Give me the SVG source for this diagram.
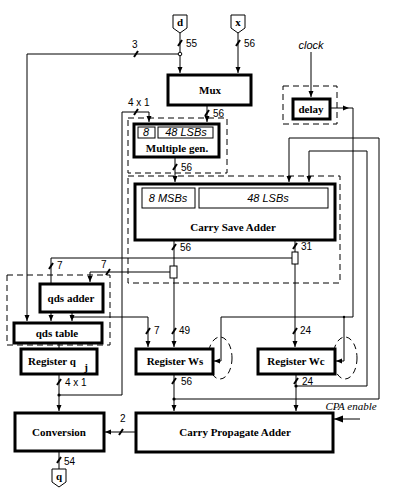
<svg xmlns="http://www.w3.org/2000/svg" width="410" height="503" viewBox="0 0 410 503">
<style>
.box{fill:#fff;stroke:#000;stroke-width:3}
.thin{fill:#fff;stroke:#000;stroke-width:1}
.dash{fill:none;stroke:#000;stroke-width:1;stroke-dasharray:6,4}
.w{fill:none;stroke:#000;stroke-width:1}
.tk{stroke:#000;stroke-width:2}
.b{font-family:"Liberation Serif",serif;font-weight:bold;font-size:11px;text-anchor:middle}
.n{font-family:"Liberation Sans",sans-serif;font-size:10px}
.it{font-family:"Liberation Sans",sans-serif;font-style:italic;font-size:11px;text-anchor:middle}
.dot{fill:#000}
</style>
<defs>
<marker id="a" markerUnits="userSpaceOnUse" markerWidth="6" markerHeight="6" refX="6" refY="3" orient="auto">
<path d="M0,0.5 L6,3 L0,5.5 z" fill="#000"/>
</marker>
<marker id="ab" markerUnits="userSpaceOnUse" markerWidth="9" markerHeight="8" refX="9" refY="4" orient="auto">
<path d="M0,0.5 L9,4 L0,7.5 z" fill="#000"/>
</marker>
</defs>
<rect width="410" height="503" fill="#fff"/>

<g id="groups">
<rect class="dash" x="128" y="118" width="99" height="55"/>
<rect class="dash" x="128" y="176" width="212" height="107"/>
<rect class="dash" x="283" y="86" width="54" height="38"/>
<rect class="dash" x="7" y="275" width="103" height="70"/>
<ellipse class="dash" cx="220" cy="358" rx="12" ry="21"/>
<ellipse class="dash" cx="345" cy="358" rx="12" ry="21"/>
</g>

<g id="connectors">
<path class="w" d="M180,33 V73" marker-end="url(#a)"/>
<path class="w" d="M238,33 V73" marker-end="url(#a)"/>
<path class="w" d="M180,54 H27 V321" marker-end="url(#a)"/>
<path class="w" d="M207,105 V122" marker-end="url(#a)"/>
<path class="w" d="M59,395 H122 V112 H149 V122" marker-end="url(#a)"/>
<path class="w" d="M175,157 V182" marker-end="url(#a)"/>
<path class="w" d="M174,240 V266"/>
<path class="w" d="M174,278 V347" marker-end="url(#a)"/>
<path class="w" d="M295,240 V252"/>
<path class="w" d="M295,264 V347" marker-end="url(#a)"/>
<path class="w" d="M170,272 H90 V282" marker-end="url(#a)"/>
<path class="w" d="M292,258 H51 V321" marker-end="url(#a)"/>
<path class="w" d="M72,312 V321" marker-end="url(#a)"/>
<path class="w" d="M72,317 H148 V347" marker-end="url(#a)"/>
<path class="w" d="M59,343 V348"/>
<path class="w" d="M59,374 V411" marker-end="url(#a)"/>
<path class="w" d="M174,374 V411" marker-end="url(#a)"/>
<path class="w" d="M174,399 H379 V138 H289 V182" marker-end="url(#a)"/>
<path class="w" d="M296,374 V411" marker-end="url(#a)"/>
<path class="w" d="M296,386 H367 V151 H309 V182" marker-end="url(#a)"/>
<path class="w" d="M311,52 V97" marker-end="url(#a)"/>
<path class="w" d="M330,108 H353 V317 H221 V361 H214" marker-end="url(#a)"/>
<polygon points="343,105.5 349,108 343,110.5" fill="#000"/>
<path class="w" d="M344,317 V361 H336" marker-end="url(#a)"/>
<path class="w" d="M136,432 H105" marker-end="url(#a)"/>
<path class="w" d="M360,419 H334" marker-end="url(#ab)"/>
<path class="w" d="M59,451 V469"/>
<circle cx="180" cy="54" r="1.8" fill="#fff" stroke="#000" stroke-width="1"/>
<circle class="dot" cx="72" cy="317" r="1.6"/>
<circle class="dot" cx="59" cy="395" r="1.6"/>
<circle class="dot" cx="174" cy="399" r="1.6"/>
<circle class="dot" cx="296" cy="386" r="1.6"/>
<circle class="dot" cx="344" cy="317" r="1.2"/>
<rect class="thin" x="170" y="266" width="7" height="12"/>
<rect class="thin" x="292" y="252" width="6" height="12"/>
<g>
<line class="tk" x1="178" y1="46" x2="182" y2="40"/>
<line class="tk" x1="236" y1="46" x2="240" y2="40"/>
<line class="tk" x1="134" y1="57" x2="138" y2="51"/>
<line class="tk" x1="134" y1="115" x2="138" y2="109"/>
<line class="tk" x1="205" y1="116" x2="209" y2="110"/>
<line class="tk" x1="173" y1="170" x2="177" y2="164"/>
<line class="tk" x1="172" y1="250" x2="176" y2="244"/>
<line class="tk" x1="293" y1="249" x2="297" y2="243"/>
<line class="tk" x1="49" y1="269" x2="53" y2="263"/>
<line class="tk" x1="106" y1="275" x2="110" y2="269"/>
<line class="tk" x1="146" y1="334" x2="150" y2="328"/>
<line class="tk" x1="172" y1="334" x2="176" y2="328"/>
<line class="tk" x1="293" y1="334" x2="297" y2="328"/>
<line class="tk" x1="172" y1="384" x2="176" y2="378"/>
<line class="tk" x1="294" y1="384" x2="298" y2="378"/>
<line class="tk" x1="57" y1="385" x2="61" y2="379"/>
<line class="tk" x1="119" y1="435" x2="123" y2="429"/>
<line class="tk" x1="57" y1="463" x2="61" y2="457"/>
</g>
<g class="n">
<text x="186" y="47">55</text>
<text x="244" y="47">56</text>
<text x="132" y="48">3</text>
<text x="128" y="106">4 x 1</text>
<text x="213" y="117">56</text>
<text x="181" y="171">56</text>
<text x="180" y="251">56</text>
<text x="301" y="250">31</text>
<text x="57" y="269">7</text>
<text x="101" y="268">7</text>
<text x="154" y="334">7</text>
<text x="179" y="334">49</text>
<text x="300" y="334">24</text>
<text x="181" y="385">56</text>
<text x="302" y="385">24</text>
<text x="65" y="386">4 x 1</text>
<text x="120" y="422">2</text>
<text x="64" y="465">54</text>
</g>
<text class="it" x="311" y="49" font-size="10">clock</text>
<text x="351" y="410" font-family="Liberation Serif,serif" font-style="italic" font-size="11" text-anchor="middle">CPA enable</text>
</g>

<g id="d">
<path class="thin" d="M173,15 H187 V28 L180,33 L173,28 Z"/>
<text class="b" x="180" y="26">d</text>
</g>
<g id="x">
<path class="thin" d="M231,15 H245 V28 L238,33 L231,28 Z"/>
<text class="b" x="238" y="26">x</text>
</g>
<g id="q">
<path class="thin" d="M52,469 H66 V482 L59,487 L52,482 Z"/>
<text class="b" x="59" y="480">q</text>
</g>
<g id="mux">
<rect class="box" x="168" y="75" width="83" height="30"/>
<text class="b" x="210" y="94">Mux</text>
</g>
<g id="delay">
<rect class="box" x="293" y="99" width="37" height="20"/>
<text class="b" x="311" y="113">delay</text>
</g>
<g id="multgen">
<rect class="box" x="134" y="124" width="85" height="33"/>
<rect class="thin" x="138" y="127" width="17" height="11"/>
<rect class="thin" x="158" y="127" width="55" height="11"/>
<text class="it" x="146" y="136" font-size="10">8</text>
<text class="it" x="186" y="136" font-size="10">48  LSBs</text>
<text class="b" x="177" y="152">Multiple gen.</text>
</g>
<g id="csa">
<rect class="box" x="135" y="184" width="200" height="56"/>
<rect class="thin" x="142" y="188" width="53" height="20"/>
<rect class="thin" x="199" y="188" width="129" height="20"/>
<text class="it" x="168" y="202">8  MSBs</text>
<text class="it" x="268" y="202">48 LSBs</text>
<text class="b" x="233" y="231">Carry Save Adder</text>
</g>
<g id="qdsadder">
<rect class="box" x="40" y="284" width="63" height="28"/>
<text class="b" x="71" y="302">qds adder</text>
</g>
<g id="qdstable">
<rect class="box" x="14" y="323" width="88" height="20"/>
<text class="b" x="57" y="337">qds table</text>
</g>
<g id="regq">
<rect class="box" x="21" y="349" width="76" height="25"/>
<text class="b" x="52" y="365">Register  q</text>
<text class="b" x="86" y="371" font-size="8">j</text>
</g>
<g id="regws">
<rect class="box" x="136" y="349" width="77" height="25"/>
<text class="b" x="175" y="365">Register Ws</text>
</g>
<g id="regwc">
<rect class="box" x="258" y="349" width="77" height="25"/>
<text class="b" x="296" y="365">Register Wc</text>
</g>
<g id="conversion">
<rect class="box" x="15" y="413" width="89" height="38"/>
<text class="b" x="59" y="436">Conversion</text>
</g>
<g id="cpa">
<rect class="box" x="136" y="413" width="197" height="39"/>
<text class="b" x="235" y="436">Carry Propagate Adder</text>
</g>
</svg>
